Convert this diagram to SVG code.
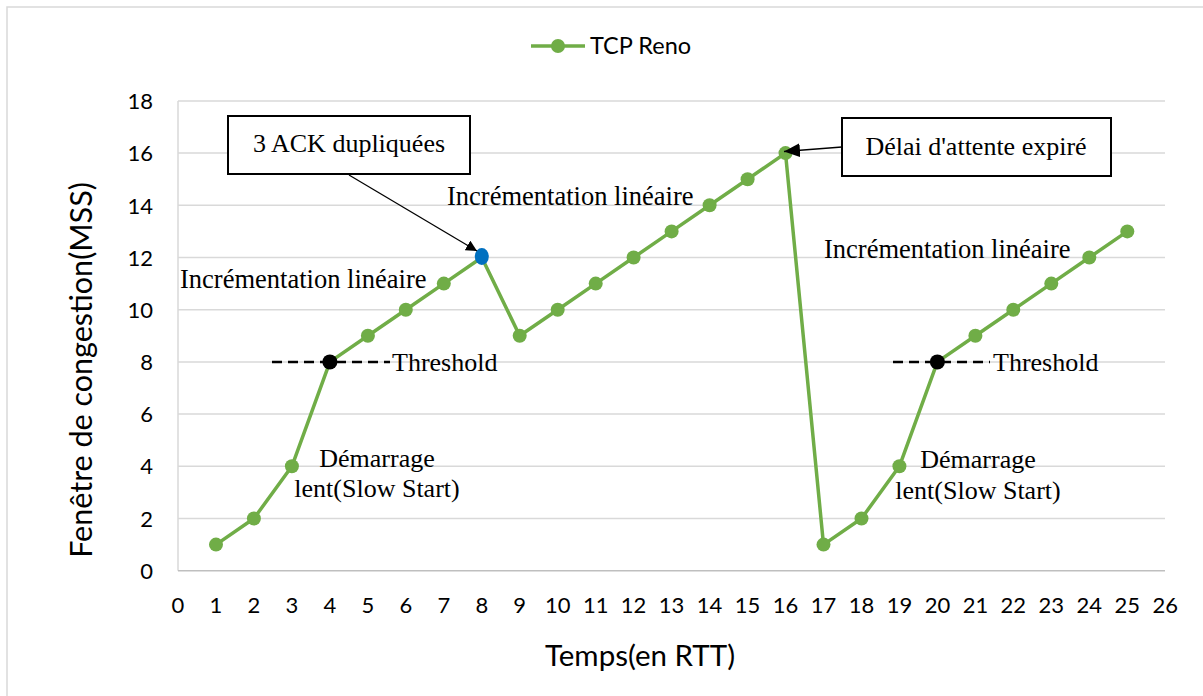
<svg xmlns="http://www.w3.org/2000/svg" width="1203" height="696" viewBox="0 0 1203 696">
<style>
.grid{stroke:#D9D9D9;stroke-width:1.5;fill:none}
.axis{stroke:#BFBFBF;stroke-width:1.5;fill:none}
.tick{font-family:Lato,"Liberation Sans",sans-serif;font-size:22px;fill:#000}
.ser{stroke:#70AD47;stroke-width:3.5;fill:none;stroke-linejoin:round}
.mk{fill:#70AD47}
.serif{font-family:"Liberation Serif","Times New Roman",serif;font-size:26px;fill:#000}
.thr{stroke:#000;stroke-width:2.5;stroke-dasharray:10 6;fill:none}
.box{fill:#fff;stroke:#000;stroke-width:2}
.conn{stroke:#000;stroke-width:1.3;fill:none}
.title{font-family:Lato,"Liberation Sans",sans-serif;font-size:29.5px;fill:#000}
</style>
<defs>
<marker id="ah" viewBox="0 0 10 10" refX="10" refY="5" markerWidth="11" markerHeight="11" markerUnits="userSpaceOnUse" orient="auto">
<path d="M0,0 L10,5 L0,10 z" fill="#000"/>
</marker>
<marker id="ah2" viewBox="0 0 10 10" refX="10" refY="5" markerWidth="16" markerHeight="14" markerUnits="userSpaceOnUse" orient="auto" preserveAspectRatio="none">
<path d="M0,0 L10,5 L0,10 z" fill="#000"/>
</marker>
</defs>
<rect x="0" y="0" width="1203" height="696" fill="#fff"/>
<rect x="7" y="7" width="1210" height="700" fill="none" stroke="#D9D9D9" stroke-width="1.5"/>

<g id="gridlines">
<line class="grid" x1="178" y1="518.5" x2="1165" y2="518.5"/>
<line class="grid" x1="178" y1="466.3" x2="1165" y2="466.3"/>
<line class="grid" x1="178" y1="414.1" x2="1165" y2="414.1"/>
<line class="grid" x1="178" y1="361.9" x2="1165" y2="361.9"/>
<line class="grid" x1="178" y1="309.7" x2="1165" y2="309.7"/>
<line class="grid" x1="178" y1="257.5" x2="1165" y2="257.5"/>
<line class="grid" x1="178" y1="205.3" x2="1165" y2="205.3"/>
<line class="grid" x1="178" y1="153.1" x2="1165" y2="153.1"/>
<line class="grid" x1="178" y1="100.9" x2="1165" y2="100.9"/>
<line class="grid" x1="178" y1="100.9" x2="178" y2="570.7"/>
<line class="axis" x1="178" y1="570.7" x2="1165" y2="570.7"/>
</g>

<g id="y-ticks" class="tick" text-anchor="end">
<text x="153" y="578.5">0</text>
<text x="153" y="526.5">2</text>
<text x="153" y="474">4</text>
<text x="153" y="422">6</text>
<text x="153" y="370">8</text>
<text x="153" y="317.5">10</text>
<text x="153" y="265.5">12</text>
<text x="153" y="213.5">14</text>
<text x="153" y="161">16</text>
<text x="153" y="109">18</text>
</g>

<g id="x-ticks" class="tick" text-anchor="middle">
<text x="178" y="613">0</text>
<text x="216" y="613">1</text>
<text x="253.9" y="613">2</text>
<text x="291.9" y="613">3</text>
<text x="329.9" y="613">4</text>
<text x="367.9" y="613">5</text>
<text x="405.8" y="613">6</text>
<text x="443.8" y="613">7</text>
<text x="481.8" y="613">8</text>
<text x="519.7" y="613">9</text>
<text x="557.7" y="613">10</text>
<text x="595.7" y="613">11</text>
<text x="633.6" y="613">12</text>
<text x="671.6" y="613">13</text>
<text x="709.6" y="613">14</text>
<text x="747.6" y="613">15</text>
<text x="785.5" y="613">16</text>
<text x="823.5" y="613">17</text>
<text x="861.5" y="613">18</text>
<text x="899.4" y="613">19</text>
<text x="937.4" y="613">20</text>
<text x="975.4" y="613">21</text>
<text x="1013.3" y="613">22</text>
<text x="1051.3" y="613">23</text>
<text x="1089.3" y="613">24</text>
<text x="1127.3" y="613">25</text>
<text x="1165.2" y="613">26</text>
</g>

<g id="axis-titles" class="title">
<text x="640" y="666" text-anchor="middle">Temps(en RTT)</text>
<text transform="translate(92,370) rotate(-90)" text-anchor="middle" font-size="30.5">Fenêtre de congestion(MSS)</text>
</g>

<g id="legend">
<line x1="531" y1="46" x2="585" y2="46" stroke="#70AD47" stroke-width="3.5"/>
<circle cx="558" cy="46" r="7" class="mk"/>
<text x="590" y="54" font-family="Lato,'Liberation Sans',sans-serif" font-size="23.5" fill="#000">TCP Reno</text>
</g>

<g id="threshold-lines">
<line class="thr" x1="272" y1="361.9" x2="390" y2="361.9"/>
<line class="thr" x1="893" y1="361.9" x2="990" y2="361.9"/>
</g>

<g id="series">
<polyline class="ser" points="216,544.6 253.9,518.5 291.9,466.3 329.9,361.9 367.9,335.8 405.8,309.7 443.8,283.6 481.8,257.5 519.7,335.8 557.7,309.7 595.7,283.6 633.6,257.5 671.6,231.4 709.6,205.3 747.6,179.2 785.5,153.1 823.5,544.6 861.5,518.5 899.4,466.3 937.4,361.9 975.4,335.8 1013.3,309.7 1051.3,283.6 1089.3,257.5 1127.3,231.4"/>
<g class="mk">
<circle cx="216" cy="544.6" r="7"/>
<circle cx="253.9" cy="518.5" r="7"/>
<circle cx="291.9" cy="466.3" r="7"/>
<circle cx="367.9" cy="335.8" r="7"/>
<circle cx="405.8" cy="309.7" r="7"/>
<circle cx="443.8" cy="283.6" r="7"/>
<circle cx="519.7" cy="335.8" r="7"/>
<circle cx="557.7" cy="309.7" r="7"/>
<circle cx="595.7" cy="283.6" r="7"/>
<circle cx="633.6" cy="257.5" r="7"/>
<circle cx="671.6" cy="231.4" r="7"/>
<circle cx="709.6" cy="205.3" r="7"/>
<circle cx="747.6" cy="179.2" r="7"/>
<circle cx="785.5" cy="153.1" r="7"/>
<circle cx="823.5" cy="544.6" r="7"/>
<circle cx="861.5" cy="518.5" r="7"/>
<circle cx="899.4" cy="466.3" r="7"/>
<circle cx="975.4" cy="335.8" r="7"/>
<circle cx="1013.3" cy="309.7" r="7"/>
<circle cx="1051.3" cy="283.6" r="7"/>
<circle cx="1089.3" cy="257.5" r="7"/>
<circle cx="1127.3" cy="231.4" r="7"/>
</g>
<circle cx="329.9" cy="361.9" r="7.5" fill="#000"/>
<circle cx="937.4" cy="361.9" r="7.5" fill="#000"/>
<ellipse cx="481.8" cy="256.5" rx="7" ry="8.5" fill="#0070C0"/>
</g>

<g id="labels" class="serif">
<text x="180" y="288" font-size="26.5">Incrémentation linéaire</text>
<text x="447" y="205" font-size="26.5">Incrémentation linéaire</text>
<text x="824" y="258" font-size="26.5">Incrémentation linéaire</text>
<text x="392" y="371">Threshold</text>
<text x="993" y="371">Threshold</text>
<text x="377" y="467" text-anchor="middle">Démarrage</text>
<text x="377" y="497" text-anchor="middle">lent(Slow Start)</text>
<text x="978" y="468" text-anchor="middle">Démarrage</text>
<text x="978" y="499" text-anchor="middle">lent(Slow Start)</text>
</g>

<g id="connectors">
<line class="conn" x1="349" y1="175" x2="477" y2="251" marker-end="url(#ah)"/>
<line class="conn" x1="842" y1="147" x2="784" y2="151.5" marker-end="url(#ah2)"/>
</g>

<g id="box-ack">
<rect class="box" x="228" y="116" width="242" height="58"/>
<text class="serif" x="349" y="152" text-anchor="middle">3 ACK dupliquées</text>
</g>

<g id="box-timeout">
<rect class="box" x="842" y="118" width="269" height="58"/>
<text class="serif" x="976" y="155" text-anchor="middle">Délai d'attente expiré</text>
</g>
</svg>
